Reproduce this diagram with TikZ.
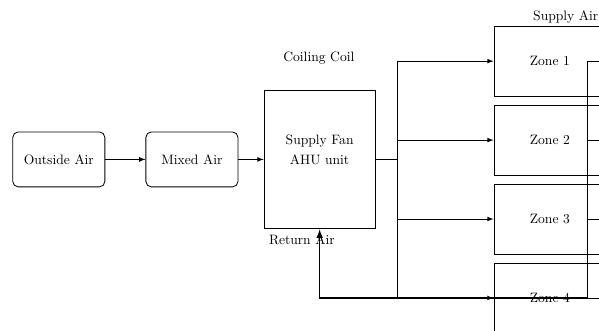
\documentclass[tikz,border=0pt]{standalone}
\usetikzlibrary{positioning}
\begin{document}
\begin{tikzpicture}[semithick,
        airbox/.style={draw,rounded corners=4pt,minimum width=2.38cm,minimum height=1.42cm},
        zonebox/.style={draw,minimum width=2.89cm,minimum height=1.81cm},
        flow/.style={-latex}
    ]
            \useasboundingbox (0,0) rectangle (15.48,-8.55);
            \node[airbox] (outside) at (1.52,-4.12) {Outside Air};
            \node[airbox] (mixed) at (4.96,-4.12) {Mixed Air};
            \node[draw,minimum width=2.87cm,minimum height=3.59cm] (ahu) at (8.26,-4.12) {};
            \node[align=center] (ahutext) at (8.26,-3.88) {Supply Fan\\[3pt]AHU unit};
            \node (coil) at (8.24,-1.50) {Coiling Coil};
            \node (return) at (7.80,-6.20) {Return Air};
            \node (supply) at (14.62,-0.44) {Supply Air};
            \foreach \i in {1,...,4}
                \node[zonebox] (zone\i) at (14.21,{-1.58-2.04*(\i-1)}) {Zone \i};
            \draw[flow] (outside) -- (mixed);
            \draw[flow] (mixed) -- (ahu);
            \coordinate (split) at (10.28,-4.12);
            \draw[very thick] (ahu.east) -- (split);
            \foreach \i in {1,...,4}
                \draw[flow] (split) |- (zone\i.west);
            \coordinate (back) at (15.19,-1.58);
            \draw (zone1.east) -- (back) |- (zone4.east);
            \draw (zone2.east) -- (back |- zone2.east);
            \draw (zone3.east) -- (back |- zone3.east);
            \draw[very thick,-latex] (back |- zone4.east) -| (ahu.south);
        \end{tikzpicture}
\end{document}
